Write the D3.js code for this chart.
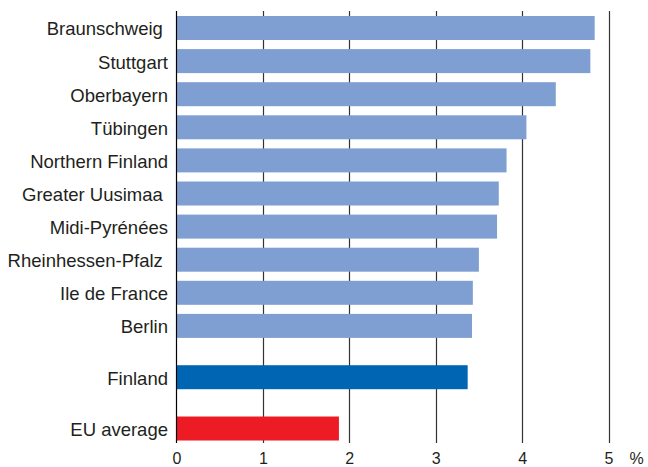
<!DOCTYPE html>
<html>
<head>
<meta charset="utf-8">
<script src="https://cdn.jsdelivr.net/npm/d3@7"></script>
<style>
  body { margin: 0; background: #fff; }
  text { font-family: "Liberation Sans", Arial, Helvetica, sans-serif; fill: #231f20; }
</style>
</head>
<body>
<div id="chart"></div>
<script>
// data
const regions = ["Braunschweig ", "Stuttgart", "Oberbayern", "Tübingen", "Northern Finland",
  "Greater Uusimaa ", "Midi-Pyrénées", "Rheinhessen-Pfalz ", "Ile de France", "Berlin"]
const regionValues = [4.84, 4.79, 4.39, 4.05, 3.82, 3.73, 3.71, 3.50, 3.43, 3.42]
const countryName = "Finland"
const countryValue = 3.37
const euName = "EU average"
const euValue = 1.88
const xTicks = [0, 1, 2, 3, 4, 5]

// layout
const width = 648, height = 467
const margin = { left: 176.5, right: 39.5, top: 11, bottom: 24 }
const rowStep = 33.1, groupGap = 1.55, barH = 24

const rows = regions.map((name, i) => ({ name: name, value: regionValues[i], slot: i, color: "#7f9fd3" }))
rows.push({ name: countryName, value: countryValue, slot: regions.length - 1 + groupGap, color: "#0066b3" })
rows.push({ name: euName, value: euValue, slot: regions.length - 1 + 2 * groupGap, color: "#ed1c24" })

const svg = d3.select("#chart").append("svg")
  .attr("width", width)
  .attr("height", height)

const x = d3.scaleLinear()
  .domain([0, 5])
  .range([margin.left, width - margin.right])

// slot -> bar centre
const y = d3.scaleLinear()
  .domain([0, 1])
  .range([28, 28 + rowStep])

const plotBottom = height - margin.bottom

// gridlines
svg.append("g")
  .selectAll("line")
  .data(xTicks.slice(1))
  .enter()
  .append("line")
  .attr("x1", d => Math.round(x(d)) + 0.5)
  .attr("x2", d => Math.round(x(d)) + 0.5)
  .attr("y1", margin.top)
  .attr("y2", plotBottom)
  .attr("stroke", "#333")
  .attr("stroke-width", 1.2)

// bars
svg.append("g")
  .selectAll("rect")
  .data(rows)
  .enter()
  .append("rect")
  .attr("x", x(0) + 0.5)
  .attr("y", d => y(d.slot) - barH / 2)
  .attr("width", d => x(d.value) - x(0) - 0.5)
  .attr("height", barH)
  .attr("fill", d => d.color)

// left axis line
svg.append("line")
  .attr("x1", x(0)).attr("x2", x(0))
  .attr("y1", margin.top).attr("y2", plotBottom)
  .attr("stroke", "#000")
  .attr("stroke-width", 1.2)

// category labels
svg.append("g")
  .selectAll("text")
  .data(rows)
  .enter()
  .append("text")
  .attr("x", x(0) - 8.5)
  .attr("y", d => y(d.slot))
  .attr("dy", "0.4em")
  .attr("text-anchor", "end")
  .attr("font-size", "18.5px")
  .style("white-space", "pre")
  .text(d => d.name)

// x tick labels
const xAxis = d3.axisBottom(x).tickValues(xTicks).tickSize(0).tickPadding(0).tickFormat(d3.format("d"))
const gx = svg.append("g")
  .attr("transform", "translate(0," + (plotBottom + 9) + ")")
  .call(xAxis)
gx.select(".domain").remove()
gx.selectAll("text")
  .attr("y", 0)
  .attr("dy", "0.72em")
  .attr("font-size", "16px")
  .attr("font-family", "Liberation Sans, Arial, sans-serif")
  .attr("fill", "#231f20")

svg.append("text")
  .attr("x", x(5) + 28)
  .attr("y", plotBottom + 9)
  .attr("dy", "0.72em")
  .attr("text-anchor", "middle")
  .attr("font-size", "16px")
  .text("%")
</script>
</body>
</html>
